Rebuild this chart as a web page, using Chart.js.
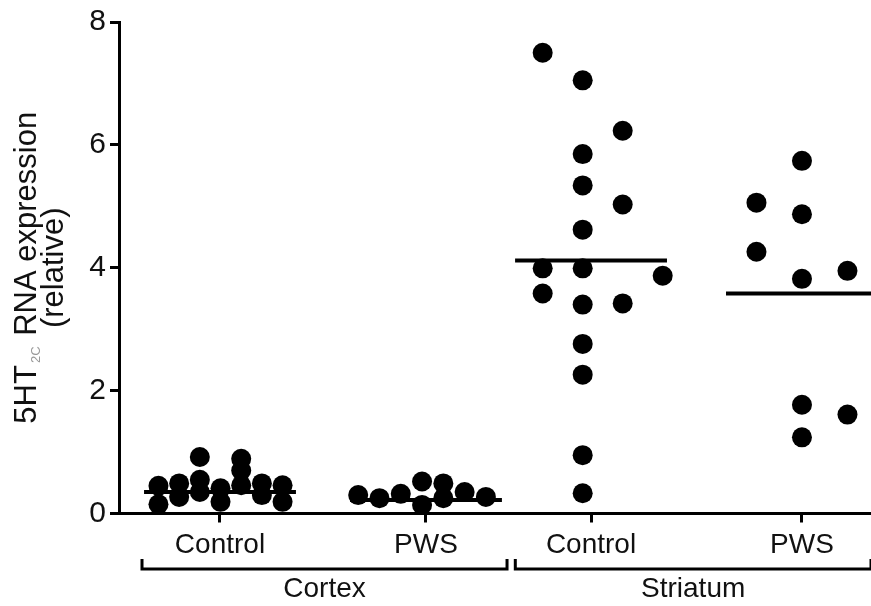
<!DOCTYPE html>
<html>
<head>
<meta charset="utf-8">
<script src="https://cdn.jsdelivr.net/npm/chart.js@4.4.1/dist/chart.umd.min.js"></script>
<style>
html,body{margin:0;padding:0;background:#fff;}
canvas{display:block;}
</style>
</head>
<body>
<canvas id="c" width="871" height="606"></canvas>
<script>
// ---- data ----
const categories = ['Control', 'PWS', 'Control', 'PWS'];
const tickPositions = [13.43, 40.82, 62.77, 90.82];          // category tick positions on the x scale
const dotCenters = [13.5, 40.3, 61.66, 90.82];                // centre column of each dot group
const columnSpacing = [2.75, 2.83, 5.32, 6.05];               // horizontal step between dot columns
const groupMeans = [0.35, 0.22, 4.12, 3.58];
const meanHalfWidth = 10.1;

// each entry: [column index, value]
const cortexControl = [[-3,0.45],[-3,0.15],[-2,0.49],[-2,0.27],[-1,0.92],[-1,0.55],[-1,0.35],
  [0,0.41],[0,0.19],[1,0.89],[1,0.70],[1,0.46],[2,0.49],[2,0.30],[3,0.46],[3,0.19]];
const cortexPWS = [[-3,0.30],[-2,0.25],[-1,0.32],[0,0.52],[0,0.14],[1,0.49],[1,0.25],[2,0.35],[3,0.27]];
const striatumControl = [[-1,7.50],[-1,3.99],[-1,3.58],
  [0,7.05],[0,5.85],[0,5.34],[0,4.62],[0,3.99],[0,3.40],[0,2.76],[0,2.26],[0,0.95],[0,0.33],
  [1,6.23],[1,5.03],[1,3.42],[2,3.87]];
const striatumPWS = [[-1,5.06],[-1,4.26],[0,5.74],[0,4.87],[0,3.82],[0,1.77],[0,1.24],[1,3.95],[1,1.61]];

const regionNames = ['Cortex', 'Striatum'];
const regionRanges = [[3.06, 51.6], [52.7, 100]];

const yTicks = [0, 2, 4, 6, 8];

// ---- build datasets ----
const groups = [cortexControl, cortexPWS, striatumControl, striatumPWS];
const FONT = "'Liberation Sans', Arial, sans-serif";
const datasets = [];
groups.forEach((g, i) => {
  datasets.push({
    type: 'scatter',
    data: g.map(([c, v]) => ({x: dotCenters[i] + c * columnSpacing[i], y: v})),
    backgroundColor: '#000',
    borderWidth: 0,
    pointRadius: 10,
    pointHoverRadius: 10,
    clip: false,
    order: 1
  });
});
groupMeans.forEach((m, i) => {
  datasets.push({
    type: 'line',
    data: [{x: tickPositions[i] - meanHalfWidth, y: m}, {x: tickPositions[i] + meanHalfWidth, y: m}],
    borderColor: '#000',
    borderWidth: 4,
    pointRadius: 0,
    clip: false,
    order: 0
  });
});

const decor = {
  id: 'decor',
  afterDraw(chart) {
    const ctx = chart.ctx;
    const xs = chart.scales.x;
    const area = chart.chartArea;
    ctx.save();
    // brackets and region names
    ctx.strokeStyle = '#000';
    ctx.lineWidth = 3;
    ctx.fillStyle = '#111';
    ctx.font = '28px ' + FONT;
    ctx.textAlign = 'center';
    ctx.textBaseline = 'middle';
    regionRanges.forEach((r, i) => {
      const x1 = xs.getPixelForValue(r[0]);
      const x2 = Math.min(xs.getPixelForValue(r[1]), chart.width + 5);
      ctx.beginPath();
      ctx.moveTo(x1, 559); ctx.lineTo(x1, 569); ctx.lineTo(x2, 569); ctx.lineTo(x2, 559);
      ctx.stroke();
      ctx.fillText(regionNames[i], (xs.getPixelForValue(r[0]) + xs.getPixelForValue(r[1])) / 2, 589);
    });
    // y axis title with subscript
    ctx.translate(25, (area.top + area.bottom) / 2);
    ctx.rotate(-Math.PI / 2);
    const big = '31px ' + FONT, small = '13px ' + FONT;
    const p1 = '5HT', p2 = '2C', p3 = ' RNA expression';
    ctx.font = big; const w1 = ctx.measureText(p1).width, w3 = ctx.measureText(p3).width;
    ctx.font = small; const w2 = ctx.measureText(p2).width + 4;
    const total = w1 + w2 + w3;
    let x = -total / 2;
    ctx.textAlign = 'left';
    ctx.textBaseline = 'alphabetic';
    ctx.font = big; ctx.fillStyle = '#111'; ctx.fillText(p1, x, 11); x += w1 + 2;
    ctx.font = small; ctx.fillStyle = '#999'; ctx.fillText(p2, x, 15); x += w2 - 2;
    ctx.font = big; ctx.fillStyle = '#111'; ctx.fillText(p3, x, 11);
    ctx.textAlign = 'center';
    ctx.fillText('(relative)', 0, 38);
    ctx.restore();
  }
};

new Chart(document.getElementById('c'), {
  type: 'scatter',
  data: {datasets},
  options: {
    responsive: false,
    animation: false,
    devicePixelRatio: 1,
    layout: {autoPadding: false, padding: {top: 20, right: 0, left: 0, bottom: 0}},
    plugins: {legend: {display: false}, tooltip: {enabled: false}},
    scales: {
      x: {
        type: 'linear', min: 0, max: 100,
        afterFit(s) { s.height = 92.5; },
        afterBuildTicks(s) { s.ticks = tickPositions.map(v => ({value: v})); },
        grid: {display: true, drawOnChartArea: false, drawTicks: true, tickLength: 9, tickWidth: 3, tickColor: '#000'},
        border: {display: true, color: '#000', width: 3},
        ticks: {
          autoSkip: false, maxRotation: 0, padding: 6,
          color: '#111', font: {family: FONT, size: 28},
          callback: (v, i) => categories[i]
        }
      },
      y: {
        type: 'linear', min: 0, max: 8,
        afterFit(s) { s.width = 119; },
        afterBuildTicks(s) { s.ticks = yTicks.map(v => ({value: v})); },
        grid: {display: true, drawOnChartArea: false, drawTicks: true, tickLength: 9, tickWidth: 3, tickColor: '#000'},
        border: {display: true, color: '#000', width: 3},
        ticks: {padding: 4, color: '#111', font: {family: FONT, size: 30}}
      }
    }
  },
  plugins: [decor]
});
</script>
</body>
</html>
